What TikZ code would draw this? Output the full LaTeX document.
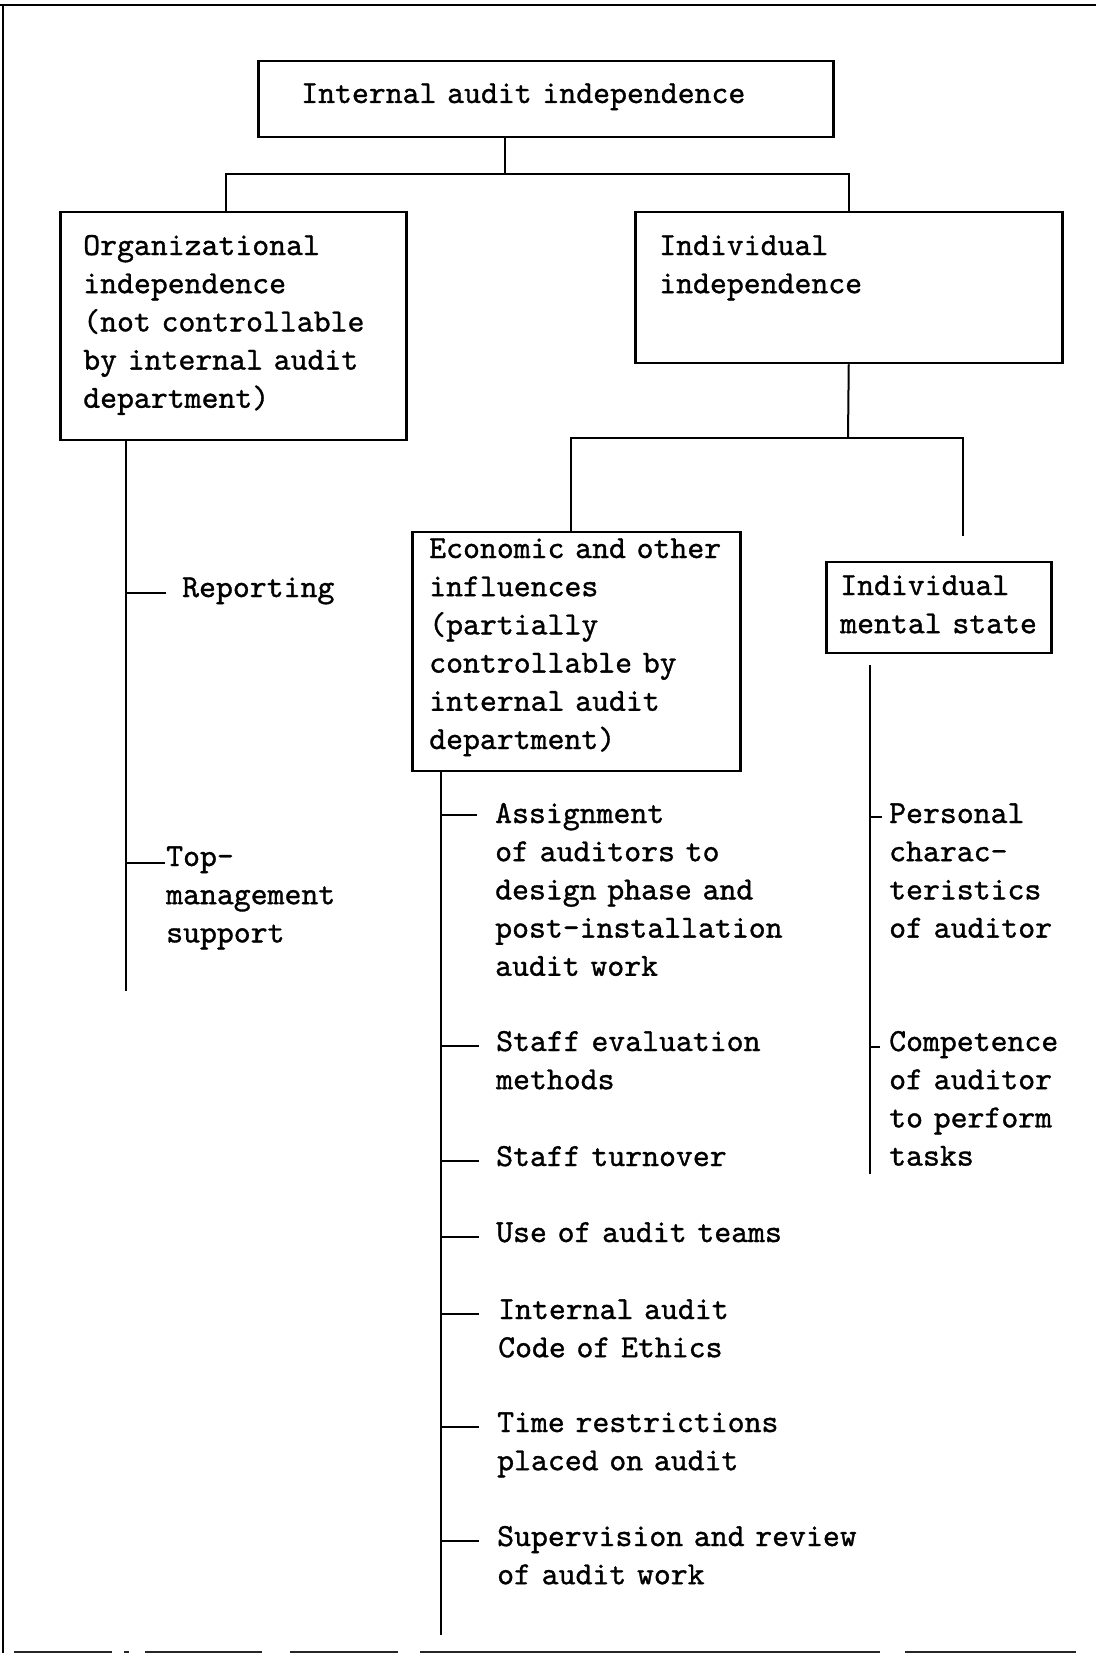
\documentclass[tikz,border=0pt]{standalone}
\usepackage{fontspec}
% typewriter face, slightly emboldened
\newfontfamily\twfont[FakeBold=1]{lmmono10-regular.otf}
\begin{document}
\begin{tikzpicture}[x=1pt,y=-1pt,
  txt/.style={font=\twfont\fontsize{32.2}{38.2}\selectfont, align=left, anchor=base west},
  box/.style={txt, draw, line width=2.5pt, inner ysep=0pt},
  item/.style={txt, inner sep=0pt, text width=420pt},
  link/.style={line width=2pt},
  frame/.style={line width=2pt},
  edge/.style={line width=1.6pt, black!85},
]
\path[use as bounding box, fill=white] (0,0) rectangle (1096,1667);

% page frame
\draw[frame] (0,5) -- (1096,5);
\draw[frame] (3,5) -- (3,1653);
\foreach \a/\b in {14/112, 124/129, 145/262, 290/398, 420/880, 905/1076}
  \draw[edge] (\a,1652) -- (\b,1652);

% boxes
\node[box, inner xsep=43pt, text width=489pt, text height=42pt, text depth=34pt]
  (top) at (257,103) {Internal~audit~independence};
\node[box, inner xsep=23pt, text width=300pt, text height=43pt, text depth=185pt]
  (org) at (59,255) {Organizational\\independence\\(not~controllable\\by~internal~audit\\department)};
\node[box, inner xsep=24pt, text width=379pt, text height=43pt, text depth=108pt]
  (ind) at (634,255) {Individual\\independence};
\node[box, inner xsep=17pt, text width=294pt, text height=26pt, text depth=213pt]
  (econ) at (411,558) {Economic~and~other\\influences\\(partially\\controllable~by\\internal~audit\\department)};
\node[box, inner xsep=14pt, text width=197pt, text height=33pt, text depth=58pt]
  (ims) at (825,595) {Individual\\mental~state};

% tree connectors
\coordinate (j0) at (505,174);
\coordinate (j1) at (848,438);
\coordinate (ie) at (963,536);
\draw[link] (top.south -| j0) -- (j0);
\draw[link] ([xshift=-7pt]org.north) |- (j0) -| (ind.north);
\draw[link] (ind.south) -- (j1);
\draw[link] ([xshift=-5pt]econ.north) |- (j1) -| (ie);

% organizational factors
\node[item] (rep) at (182,597) {Reporting};
\node[item] (tms) at (166,866) {Top-\\management\\support};
\coordinate (os) at (126,991);
\draw[link] (org.south -| os) -- (os);
\draw[link] ([yshift=4pt]rep.base west -| os) -- ([shift={(-16pt,4pt)}]rep.base west);
\draw[link] ([yshift=3pt]tms.base west -| os) -- ([shift={(-1pt,3pt)}]tms.base west);

% economic and other influences
\node[item] (a1) at (495,823) {Assignment\\of~auditors~to\\design~phase~and\\post-installation\\audit~work};
\node[item] (a2) at (496,1051) {Staff~evaluation\\methods};
\node[item] (a3) at (496,1166) {Staff~turnover};
\node[item] (a4) at (496,1242) {Use~of~audit~teams};
\node[item] (a5) at (498,1319) {Internal~audit\\Code~of~Ethics};
\node[item] (a6) at (497,1432) {Time~restrictions\\placed~on~audit};
\node[item] (a7) at (497,1546) {Supervision~and~review\\of~audit~work};
\coordinate (es) at (441,1635);
\draw[link] (econ.south -| es) -- (es);
\draw[link] ([yshift=8pt]a1.base west -| es) -- ([shift={(-18pt,8pt)}]a1.base west);
\foreach \n/\dx in {a2/-17, a3/-17, a4/-17, a5/-19, a6/-18, a7/-18}
  \draw[link] ([yshift=5pt]\n.base west -| es) -- ([shift={(\dx pt,5pt)}]\n.base west);

% individual mental state
\node[item] (p1) at (889,823) {Personal\\charac-\\teristics\\of~auditor};
\node[item] (p2) at (889,1051) {Competence\\of~auditor\\to~perform\\tasks};
\coordinate (ms0) at (870,665);
\coordinate (ms) at (870,1174);
\draw[link] (ms0) -- (ms);
\draw[link] ([yshift=6pt]p1.base west -| ms) -- ([shift={(-7pt,6pt)}]p1.base west);
\draw[link] ([yshift=4pt]p2.base west -| ms) -- ([shift={(-9pt,4pt)}]p2.base west);
\end{tikzpicture}
\end{document}
